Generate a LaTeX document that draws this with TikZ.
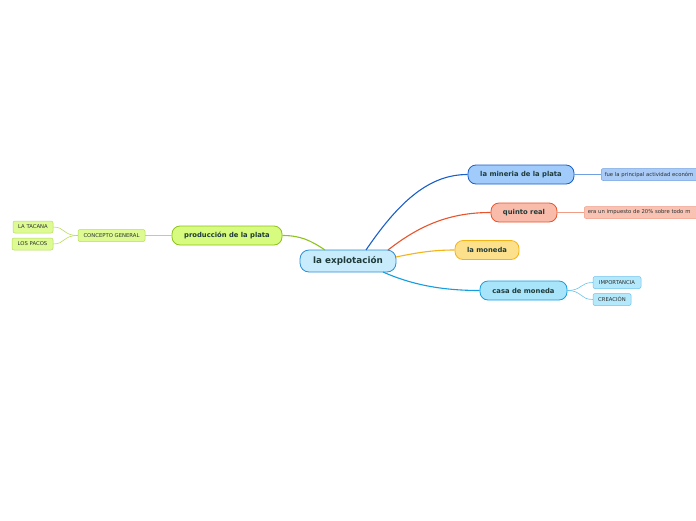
\documentclass[tikz,border=0pt]{standalone}
\usepackage{fontspec}
\setmainfont{DejaVu Sans}
\definecolor{txt}{HTML}{1F3B3A}
\definecolor{ltxt}{HTML}{2A2F2F}
\definecolor{cenF}{HTML}{C8ECFC}\definecolor{cenD}{HTML}{2B8FD6}
\definecolor{minF}{HTML}{A0CBFA}\definecolor{minD}{HTML}{1A5FC8}
\definecolor{minL}{HTML}{A9CBF6}\definecolor{minLD}{HTML}{6FA0E2}
\definecolor{quiF}{HTML}{F9BBAA}\definecolor{quiD}{HTML}{E8542B}
\definecolor{quiL}{HTML}{F9C3B4}\definecolor{quiLD}{HTML}{F19C84}
\definecolor{monF}{HTML}{FDE08C}\definecolor{monD}{HTML}{F5B316}
\definecolor{casF}{HTML}{A8E4FA}\definecolor{casD}{HTML}{149EE0}
\definecolor{casL}{HTML}{B4E8FB}\definecolor{casLD}{HTML}{6CC4EE}
\definecolor{proF}{HTML}{D7FB7E}\definecolor{proD}{HTML}{8EC21C}
\definecolor{proL}{HTML}{DDFB92}\definecolor{proLD}{HTML}{B8DC60}
\tikzset{
  main/.style={draw, line width=0.8pt, rounded corners=8pt, inner sep=0pt, text=txt,
     font=\bfseries\fontsize{6.8}{7}\selectfont, minimum height=19pt},
  leaf/.style={draw, line width=0.5pt, rounded corners=2pt, inner sep=0pt, text=ltxt,
     font=\fontsize{5.3}{6}\selectfont, minimum height=12pt},
  conn/.style={line width=1.1pt},
  lconn/.style={line width=0.6pt}
}
\begin{document}
\begin{tikzpicture}[x=1pt,y=-1pt]
\useasboundingbox (0,0) rectangle (696,520);
\clip (0,0) rectangle (696,520);
\fill[white] (0,0) rectangle (696,520);
% central
\node[main, fill=cenF, draw=cenD, minimum width=96pt, minimum height=22pt, rounded corners=9pt,
  font=\bfseries\fontsize{8.8}{10}\selectfont] (c) at (348,261) {la explotación};
% main branches
\node[main, fill=minF, draw=minD, minimum width=106pt] (min) at (521,174.5) {la mineria de la plata};
\node[main, fill=quiF, draw=quiD, minimum width=66pt] (qui) at (524,212.5) {quinto real};
\node[main, fill=monF, draw=monD, minimum width=64pt] (mon) at (487,250) {la moneda};
\node[main, fill=casF, draw=casD, minimum width=87pt] (cas) at (523.5,290.5) {casa de moneda};
\node[main, fill=proF, draw=proD, minimum width=110pt] (pro) at (227,235.5) {producción de la plata};
% leaves
\node[leaf, fill=minL, draw=minLD, anchor=west, minimum width=120pt, inner xsep=3.5pt, align=left, text width=113pt] (minl) at (601,174.5) {fue la principal actividad económ};
\node[leaf, fill=quiL, draw=quiLD, anchor=west, minimum width=130pt, inner xsep=3.5pt, align=left, text width=123pt] (quil) at (584,212.5) {era un impuesto de 20\% sobre todo m};
\node[leaf, fill=casL, draw=casLD, minimum width=48pt] (imp) at (617,282.5) {IMPORTANCIA};
\node[leaf, fill=casL, draw=casLD, minimum width=38pt] (cre) at (612,299.5) {CREACIÓN};
\node[leaf, fill=proL, draw=proLD, minimum width=67pt] (con) at (111.5,235.5) {CONCEPTO GENERAL};
\node[leaf, fill=proL, draw=proLD, minimum width=40pt] (tac) at (33,227) {LA TACANA};
\node[leaf, fill=proL, draw=proLD, minimum width=41pt] (pac) at (32.5,244) {LOS PACOS};
% connectors from center
\draw[conn, minD] (366,250) .. controls (400,200) and (430,174.5) .. (min.west);
\draw[conn, quiD] (388,250) .. controls (420,225) and (450,212.5) .. (qui.west);
\draw[conn, monD] (396,257) .. controls (420,252) and (435,250) .. (mon.west);
\draw[conn, casD] (383,272) .. controls (410,284) and (440,290.5) .. (cas.west);
\draw[conn, proD] (325,250) .. controls (310,240) and (300,235.5) .. (pro.east);
% leaf connectors
\draw[lconn, minLD] (min.east) -- (minl.west);
\draw[lconn, quiLD] (qui.east) -- (quil.west);
\draw[lconn, casLD] (cas.east) .. controls (582,290.5) and (580,282.5) .. (imp.west);
\draw[lconn, casLD] (cas.east) .. controls (582,290.5) and (580,299.5) .. (cre.west);
\draw[lconn, proLD] (pro.west) -- (con.east);
\draw[lconn, proLD] (con.west) .. controls (63,235.5) and (65,227) .. (tac.east);
\draw[lconn, proLD] (con.west) .. controls (63,235.5) and (65,244) .. (pac.east);
\end{tikzpicture}
\end{document}
